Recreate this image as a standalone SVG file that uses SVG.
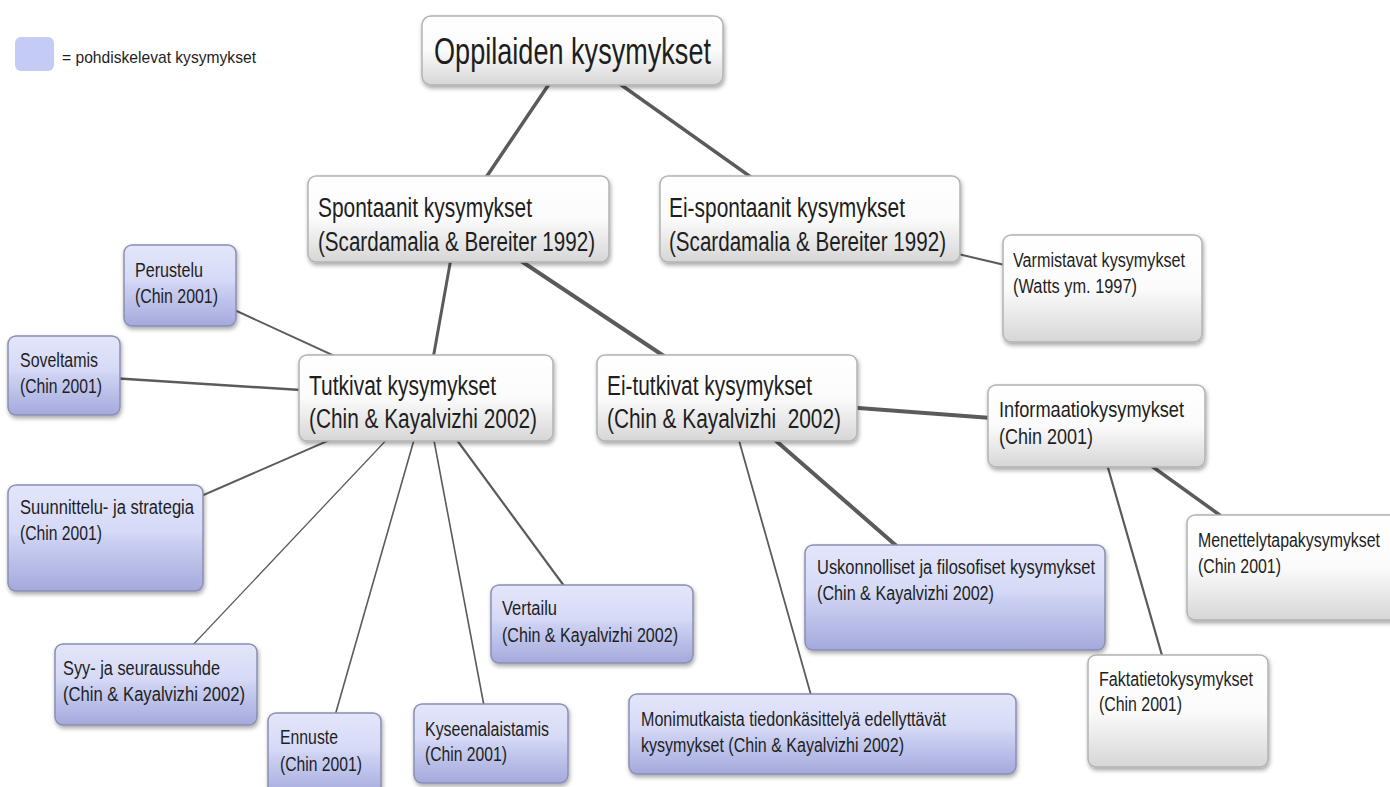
<svg xmlns="http://www.w3.org/2000/svg" width="1390" height="787" viewBox="0 0 1390 787">
<style>
text{font-family:"Liberation Sans Narrow","Liberation Sans",Arial,sans-serif;fill:#1e1e1e}
.r{font-size:36px}
.m{font-size:27px}
.s{font-size:20px}
.si{font-size:22.5px}
.w{fill:url(#gw);stroke:#b3b3b3;stroke-width:1.5;filter:url(#sh)}
.b{fill:url(#gb);stroke:#8b8fb3;stroke-width:1.5;filter:url(#sh)}
.c line{stroke:#5b5b5b;stroke-linecap:round}
</style>
<defs>
<linearGradient id="gw" x1="0" y1="0" x2="0" y2="1">
<stop offset="0" stop-color="#ffffff"/>
<stop offset="0.5" stop-color="#fbfbfb"/>
<stop offset="1" stop-color="#d6d6d6"/>
</linearGradient>
<linearGradient id="gb" x1="0" y1="0" x2="0" y2="1">
<stop offset="0" stop-color="#e3e6fa"/>
<stop offset="0.45" stop-color="#d5d9f6"/>
<stop offset="0.5" stop-color="#cdd2f3"/>
<stop offset="1" stop-color="#a4a9dc"/>
</linearGradient>
<filter id="sh" x="-10%" y="-10%" width="130%" height="140%">
<feDropShadow dx="1" dy="2.5" stdDeviation="2" flood-color="#000" flood-opacity="0.35"/>
</filter>
</defs>
<rect width="1390" height="787" fill="#ffffff"/>

<g id="legend">
<rect x="15" y="37" width="39" height="34" rx="6" fill="#c4ccf5"/>
<text x="62" y="63" style="font-family:'Liberation Sans',Arial,sans-serif;font-size:17px" textLength="194" lengthAdjust="spacingAndGlyphs">= pohdiskelevat kysymykset</text>
</g>

<g id="connectors" class="c">
<line x1="572" y1="50" x2="458" y2="219" stroke-width="3.5"/>
<line x1="572" y1="50" x2="810" y2="219" stroke-width="3.5"/>
<line x1="458" y1="219" x2="426" y2="398" stroke-width="3"/>
<line x1="458" y1="219" x2="727" y2="398" stroke-width="4"/>
<line x1="810" y1="219" x2="1102" y2="288" stroke-width="2"/>
<line x1="426" y1="398" x2="180" y2="285" stroke-width="2"/>
<line x1="426" y1="398" x2="64" y2="375" stroke-width="2.5"/>
<line x1="426" y1="398" x2="105" y2="538" stroke-width="2"/>
<line x1="426" y1="398" x2="156" y2="684" stroke-width="1.3"/>
<line x1="426" y1="398" x2="324" y2="754" stroke-width="1.6"/>
<line x1="426" y1="398" x2="491" y2="743" stroke-width="1.6"/>
<line x1="426" y1="398" x2="592" y2="624" stroke-width="2.2"/>
<line x1="727" y1="398" x2="1096" y2="426" stroke-width="4"/>
<line x1="727" y1="398" x2="955" y2="597" stroke-width="4"/>
<line x1="727" y1="398" x2="822" y2="734" stroke-width="1.8"/>
<line x1="1096" y1="426" x2="1292" y2="567" stroke-width="3.5"/>
<line x1="1096" y1="426" x2="1178" y2="711" stroke-width="2.2"/>
</g>

<g id="root">
<rect class="w" x="422" y="16" width="301" height="69" rx="9"/>
<text class="r" x="434" y="64" textLength="277" lengthAdjust="spacingAndGlyphs">Oppilaiden kysymykset</text>
</g>

<g id="spontaanit">
<rect class="w" x="308" y="176" width="301" height="86" rx="8"/>
<text class="m" x="318" y="217" textLength="214" lengthAdjust="spacingAndGlyphs">Spontaanit kysymykset</text>
<text class="m" x="318" y="251" textLength="277" lengthAdjust="spacingAndGlyphs">(Scardamalia &amp; Bereiter 1992)</text>
</g>

<g id="ei-spontaanit">
<rect class="w" x="660" y="176" width="300" height="86" rx="8"/>
<text class="m" x="669" y="217" textLength="236" lengthAdjust="spacingAndGlyphs">Ei-spontaanit kysymykset</text>
<text class="m" x="669" y="251" textLength="277" lengthAdjust="spacingAndGlyphs">(Scardamalia &amp; Bereiter 1992)</text>
</g>

<g id="varmistavat">
<rect class="w" x="1003" y="235" width="199" height="107" rx="8"/>
<text class="s" x="1013" y="267" textLength="172" lengthAdjust="spacingAndGlyphs">Varmistavat kysymykset</text>
<text class="s" x="1013" y="293" textLength="124" lengthAdjust="spacingAndGlyphs">(Watts ym. 1997)</text>
</g>

<g id="perustelu">
<rect class="b" x="124" y="245" width="112" height="81" rx="8"/>
<text class="s" x="135" y="277" textLength="68" lengthAdjust="spacingAndGlyphs">Perustelu</text>
<text class="s" x="135" y="303" textLength="83" lengthAdjust="spacingAndGlyphs">(Chin 2001)</text>
</g>

<g id="soveltamis">
<rect class="b" x="8" y="336" width="112" height="79" rx="8"/>
<text class="s" x="20" y="367" textLength="78" lengthAdjust="spacingAndGlyphs">Soveltamis</text>
<text class="s" x="20" y="393" textLength="82" lengthAdjust="spacingAndGlyphs">(Chin 2001)</text>
</g>

<g id="tutkivat">
<rect class="w" x="299" y="355" width="254" height="86" rx="8"/>
<text class="m" x="309" y="395" textLength="187" lengthAdjust="spacingAndGlyphs">Tutkivat kysymykset</text>
<text class="m" x="309" y="428" textLength="228" lengthAdjust="spacingAndGlyphs">(Chin &amp; Kayalvizhi 2002)</text>
</g>

<g id="ei-tutkivat">
<rect class="w" x="597" y="355" width="260" height="86" rx="8"/>
<text class="m" x="607" y="395" textLength="205" lengthAdjust="spacingAndGlyphs">Ei-tutkivat kysymykset</text>
<text class="m" x="607" y="428" textLength="234" lengthAdjust="spacingAndGlyphs">(Chin &amp; Kayalvizhi&#160; 2002)</text>
</g>

<g id="informaatio">
<rect class="w" x="988" y="385" width="217" height="82" rx="8"/>
<text class="si" x="999" y="417" textLength="185" lengthAdjust="spacingAndGlyphs">Informaatiokysymykset</text>
<text class="si" x="999" y="444" textLength="94" lengthAdjust="spacingAndGlyphs">(Chin 2001)</text>
</g>

<g id="suunnittelu">
<rect class="b" x="8" y="485" width="195" height="106" rx="8"/>
<text class="s" x="20" y="514" textLength="174" lengthAdjust="spacingAndGlyphs">Suunnittelu- ja strategia</text>
<text class="s" x="20" y="540" textLength="82" lengthAdjust="spacingAndGlyphs">(Chin 2001)</text>
</g>

<g id="syy">
<rect class="b" x="55" y="644" width="202" height="81" rx="8"/>
<text class="s" x="63" y="675" textLength="157" lengthAdjust="spacingAndGlyphs">Syy- ja seuraussuhde</text>
<text class="s" x="63" y="701" textLength="182" lengthAdjust="spacingAndGlyphs">(Chin &amp; Kayalvizhi 2002)</text>
</g>

<g id="ennuste">
<rect class="b" x="268" y="713" width="113" height="84" rx="8"/>
<text class="s" x="280" y="744" textLength="58" lengthAdjust="spacingAndGlyphs">Ennuste</text>
<text class="s" x="280" y="771" textLength="82" lengthAdjust="spacingAndGlyphs">(Chin 2001)</text>
</g>

<g id="kyseenalaistamis">
<rect class="b" x="414" y="704" width="154" height="79" rx="8"/>
<text class="s" x="425" y="736" textLength="124" lengthAdjust="spacingAndGlyphs">Kyseenalaistamis</text>
<text class="s" x="425" y="761" textLength="82" lengthAdjust="spacingAndGlyphs">(Chin 2001)</text>
</g>

<g id="vertailu">
<rect class="b" x="491" y="585" width="202" height="78" rx="8"/>
<text class="s" x="502" y="615" textLength="55" lengthAdjust="spacingAndGlyphs">Vertailu</text>
<text class="s" x="502" y="642" textLength="176" lengthAdjust="spacingAndGlyphs">(Chin &amp; Kayalvizhi 2002)</text>
</g>

<g id="uskonnolliset">
<rect class="b" x="805" y="545" width="300" height="105" rx="8"/>
<text class="s" x="817" y="574" textLength="278" lengthAdjust="spacingAndGlyphs">Uskonnolliset ja filosofiset kysymykset</text>
<text class="s" x="817" y="600" textLength="177" lengthAdjust="spacingAndGlyphs">(Chin &amp; Kayalvizhi 2002)</text>
</g>

<g id="monimutkaista">
<rect class="b" x="629" y="694" width="387" height="80" rx="8"/>
<text class="s" x="641" y="726" textLength="305" lengthAdjust="spacingAndGlyphs">Monimutkaista tiedonkäsittelyä edellyttävät</text>
<text class="s" x="641" y="752" textLength="263" lengthAdjust="spacingAndGlyphs">kysymykset (Chin &amp; Kayalvizhi 2002)</text>
</g>

<g id="menettelytapa">
<rect class="w" x="1187" y="515" width="215" height="105" rx="8"/>
<text class="s" x="1198" y="547" textLength="182" lengthAdjust="spacingAndGlyphs">Menettelytapakysymykset</text>
<text class="s" x="1198" y="573" textLength="83" lengthAdjust="spacingAndGlyphs">(Chin 2001)</text>
</g>

<g id="faktatieto">
<rect class="w" x="1088" y="655" width="180" height="112" rx="8"/>
<text class="s" x="1099" y="686" textLength="154" lengthAdjust="spacingAndGlyphs">Faktatietokysymykset</text>
<text class="s" x="1099" y="711" textLength="83" lengthAdjust="spacingAndGlyphs">(Chin 2001)</text>
</g>
</svg>
